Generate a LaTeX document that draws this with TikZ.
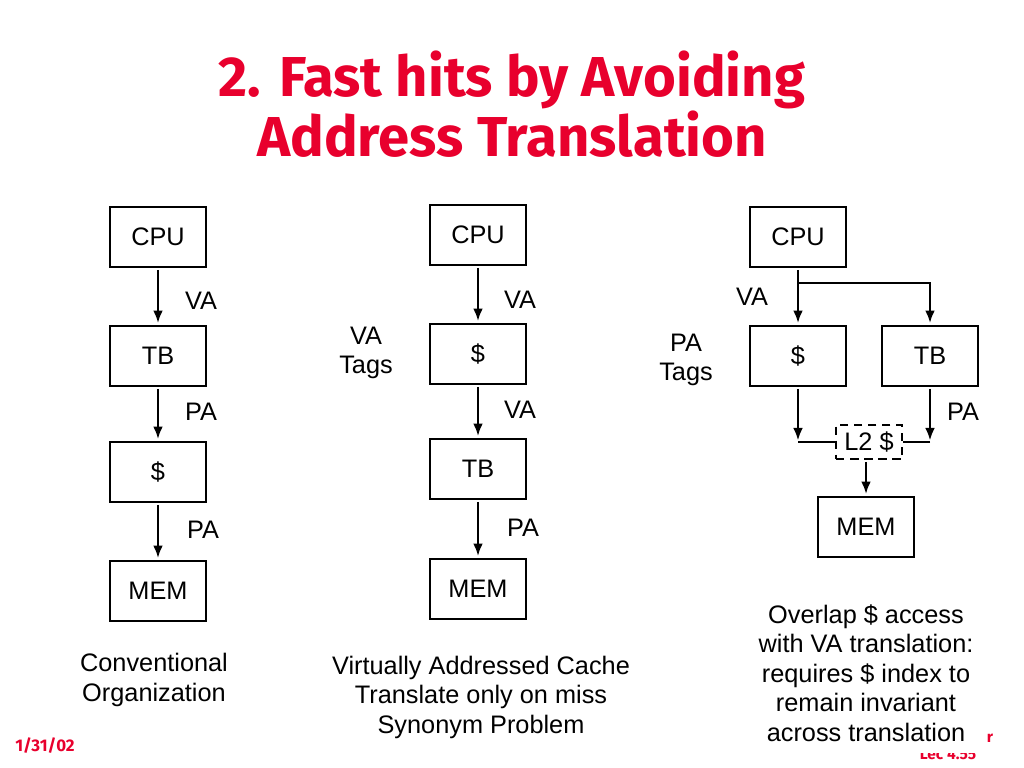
\documentclass[tikz,border=0pt]{standalone}
\usepackage{fontspec}
\setmainfont{Liberation Sans}
\newfontfamily\titlefont{Fira Sans}
\usepackage{xcolor}
\usetikzlibrary{shapes.geometric, arrows.meta}
\definecolor{slidered}{RGB}{232,0,45}

\begin{document}
\begin{tikzpicture}[x=0.025cm, y=-0.025cm,
    box/.style={draw, line width=1.4pt, minimum width=2.4cm, minimum height=1.52cm, inner sep=0pt},
    lbl/.style={inner sep=0pt},
    arr/.style={-{Latex[length=9pt, width=7pt]}, line width=1.8pt, shorten >=1pt, shorten <=1pt},
    wire/.style={line width=1.8pt},
    every node/.style={font=\fontsize{18}{21}\selectfont}]
        \useasboundingbox (0,0) rectangle (1024,768);

        % title
        \node[text=slidered, align=center, font=\titlefont\bfseries\fontsize{40}{37}\selectfont] (title) at (512,104) {2. Fast hits by Avoiding\\Address Translation};

        % conventional
        \node[box] (cpu1) at (158,237) {CPU};
        \node[box] (tb1)  at (158,356) {TB};
        \node[box] (c1)   at (158,472) {\$};
        \node[box] (mem1) at (158,591) {MEM};

        \node[lbl] (va1)  at (201,301) {VA};
        \node[lbl] (pa1)  at (201,412) {PA};
        \node[lbl] (pa2)  at (203,530) {PA};

        \draw[arr] (cpu1) -- (tb1);
        \draw[arr] (tb1) -- (c1);
        \draw[arr] (c1) -- (mem1);

        \node[align=center, lbl] (cap1) at (154,680) {Conventional\\Organization};

        % virtually addressed
        \node[box] (cpu2) at (478,235) {CPU};
        \node[box] (c2)   at (478,354) {\$};
        \node[box] (tb2)  at (478,469) {TB};
        \node[box] (mem2) at (478,589) {MEM};

        \node[lbl] (va2)  at (520,300) {VA};
        \node[lbl] (va3)  at (520,410) {VA};
        \node[lbl] (pa3)  at (523,528) {PA};
        \node[lbl, align=center] (vatags) at (366,353) {VA\\Tags};

        \draw[arr] (cpu2) -- (c2);
        \draw[arr] (c2) -- (tb2);
        \draw[arr] (tb2) -- (mem2);

        \node[align=center, lbl] (cap2) at (481,697) {Virtually Addressed Cache\\Translate only on miss\\Synonym Problem};

        % overlapped
        \node[box] (cpu3) at (798,237) {CPU};
        \node[box] (c3)   at (798,356) {\$};
        \node[box] (tb3)  at (930,356) {TB};
        \node[draw, dashed, dash pattern=on 6pt off 4pt, line width=1.4pt, minimum width=1.65cm, minimum height=0.87cm, inner sep=0pt] (l2) at (869,442) {L2 \$};
        \node[box] (mem3) at (866,527) {MEM};

        \node[lbl] (va4)  at (752,297) {VA};
        \node[lbl] (pa4)  at (963,412) {PA};
        \node[lbl, align=center] (patags) at (686,360) {PA\\Tags};

        \coordinate (fork) at (cpu3.south |- 0,283);
        \coordinate (joinL) at (c3.south |- l2.west);
        \coordinate (joinR) at (tb3.south |- l2.east);

        \draw[arr] (cpu3) -- (c3);
        \draw[arr] (fork) -| (tb3.north);
        \draw[arr] (c3) -- (joinL);
        \draw[arr] (tb3) -- (joinR);
        \draw[wire] (joinL) -- (l2.west);
        \draw[wire] (joinR) -- (l2.east);
        \draw[arr] (l2.south -| mem3) -- (mem3);

        \node[align=center, lbl] (cap3) at (866,673) {Overlap \$ access\\with VA translation:\\requires \$ index to\\remain invariant\\across translation};

        % footer
        \node[text=slidered, font=\titlefont\bfseries\fontsize{12}{14}\selectfont] (date) at (45,746) {1/31/02};
        \node[text=slidered, font=\titlefont\bfseries\fontsize{11}{13}\selectfont] (fr) at (990,738) {r};
        \begin{scope}
            \clip (900,753) rectangle (1000,768);
            \node[text=slidered, font=\titlefont\bfseries\fontsize{11}{13}\selectfont] (lec) at (948,754) {Lec 4.55};
        \end{scope}
    \end{tikzpicture}
\end{document}
